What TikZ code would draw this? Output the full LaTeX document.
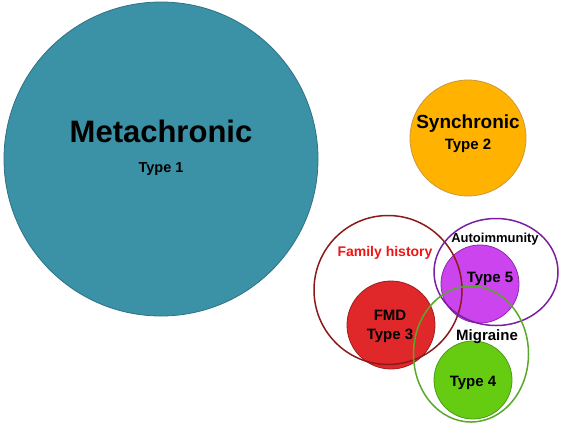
\documentclass[tikz,border=0pt]{standalone}
\usepackage{fontspec}
\setmainfont{Liberation Sans}
\usetikzlibrary{shapes.geometric}
\definecolor{teal1}{HTML}{3B91A6}
\definecolor{teal2}{HTML}{2E7384}
\definecolor{orng}{HTML}{FFB300}
\definecolor{orng2}{HTML}{C99A3A}
\definecolor{red1}{HTML}{E0282A}
\definecolor{red2}{HTML}{9A2020}
\definecolor{darkred}{HTML}{8B1A1A}
\definecolor{mag}{HTML}{CC44EE}
\definecolor{mag2}{HTML}{8E2AA8}
\definecolor{purp}{HTML}{7A1FA2}
\definecolor{grn}{HTML}{66CC11}
\definecolor{grn2}{HTML}{4E9A1A}
\definecolor{grnline}{HTML}{5AA82A}
\definecolor{famred}{HTML}{F01414}
\tikzset{
  blob/.style={circle, inner sep=0pt, line width=0.8pt},
  ring/.style={ellipse, inner sep=0pt, line width=1.5pt, fill=none},
  lbl/.style={font=\bfseries, align=center, inner sep=0pt},
}
\begin{document}
\begin{tikzpicture}[x=1pt,y=-1pt]
\useasboundingbox (0,0) rectangle (561,426);
% big circles
\node[blob, fill=teal1, draw=teal2, minimum size=314pt] (meta) at (161,159) {};
\node[lbl, font=\bfseries\fontsize{31}{33}\selectfont] (metat) at (161,131) {Metachronic};
\node[lbl, font=\bfseries\fontsize{14.5}{16}\selectfont] (t1) at (161,169) {Type 1};
\node[blob, fill=orng, draw=orng2, minimum size=116pt] (sync) at (468,138) {};
\node[lbl, font=\bfseries\fontsize{19}{21}\selectfont] (synct) at (468,124) {Synchronic};
\node[lbl, font=\bfseries\fontsize{15}{17}\selectfont] (t2) at (468,146) {Type 2};
% filled small circles
\node[blob, fill=red1, draw=red2, minimum size=88pt] (fmd) at (391,325) {};
\node[blob, fill=mag, draw=mag2, minimum size=78pt] (t5c) at (480,284) {};
\node[blob, fill=grn, draw=grn2, minimum size=78pt] (t4c) at (473,380) {};
% rings
\node[ring, draw=darkred, minimum width=148pt, minimum height=149pt] (fam) at (388,290) {};
\node[ring, draw=purp, minimum width=124pt, minimum height=107pt] (auto) at (496,272) {};
\node[ring, draw=grnline, minimum width=115pt, minimum height=136pt] (mig) at (471,354) {};
% labels
\node[lbl, text=famred, font=\bfseries\fontsize{14}{16}\selectfont] (famt) at (385,253) {Family history};
\node[lbl, font=\bfseries\fontsize{13}{15}\selectfont] (autot) at (495,239) {Autoimmunity};
\node[lbl, font=\bfseries\fontsize{15}{19}\selectfont] (fmdt) at (390,326) {FMD\\Type 3};
\node[lbl, font=\bfseries\fontsize{15}{17}\selectfont] (t5) at (490,279) {Type 5};
\node[lbl, font=\bfseries\fontsize{15}{17}\selectfont] (migt) at (487,337) {Migraine};
\node[lbl, font=\bfseries\fontsize{15}{17}\selectfont] (t4) at (473,383) {Type 4};
\end{tikzpicture}
\end{document}
